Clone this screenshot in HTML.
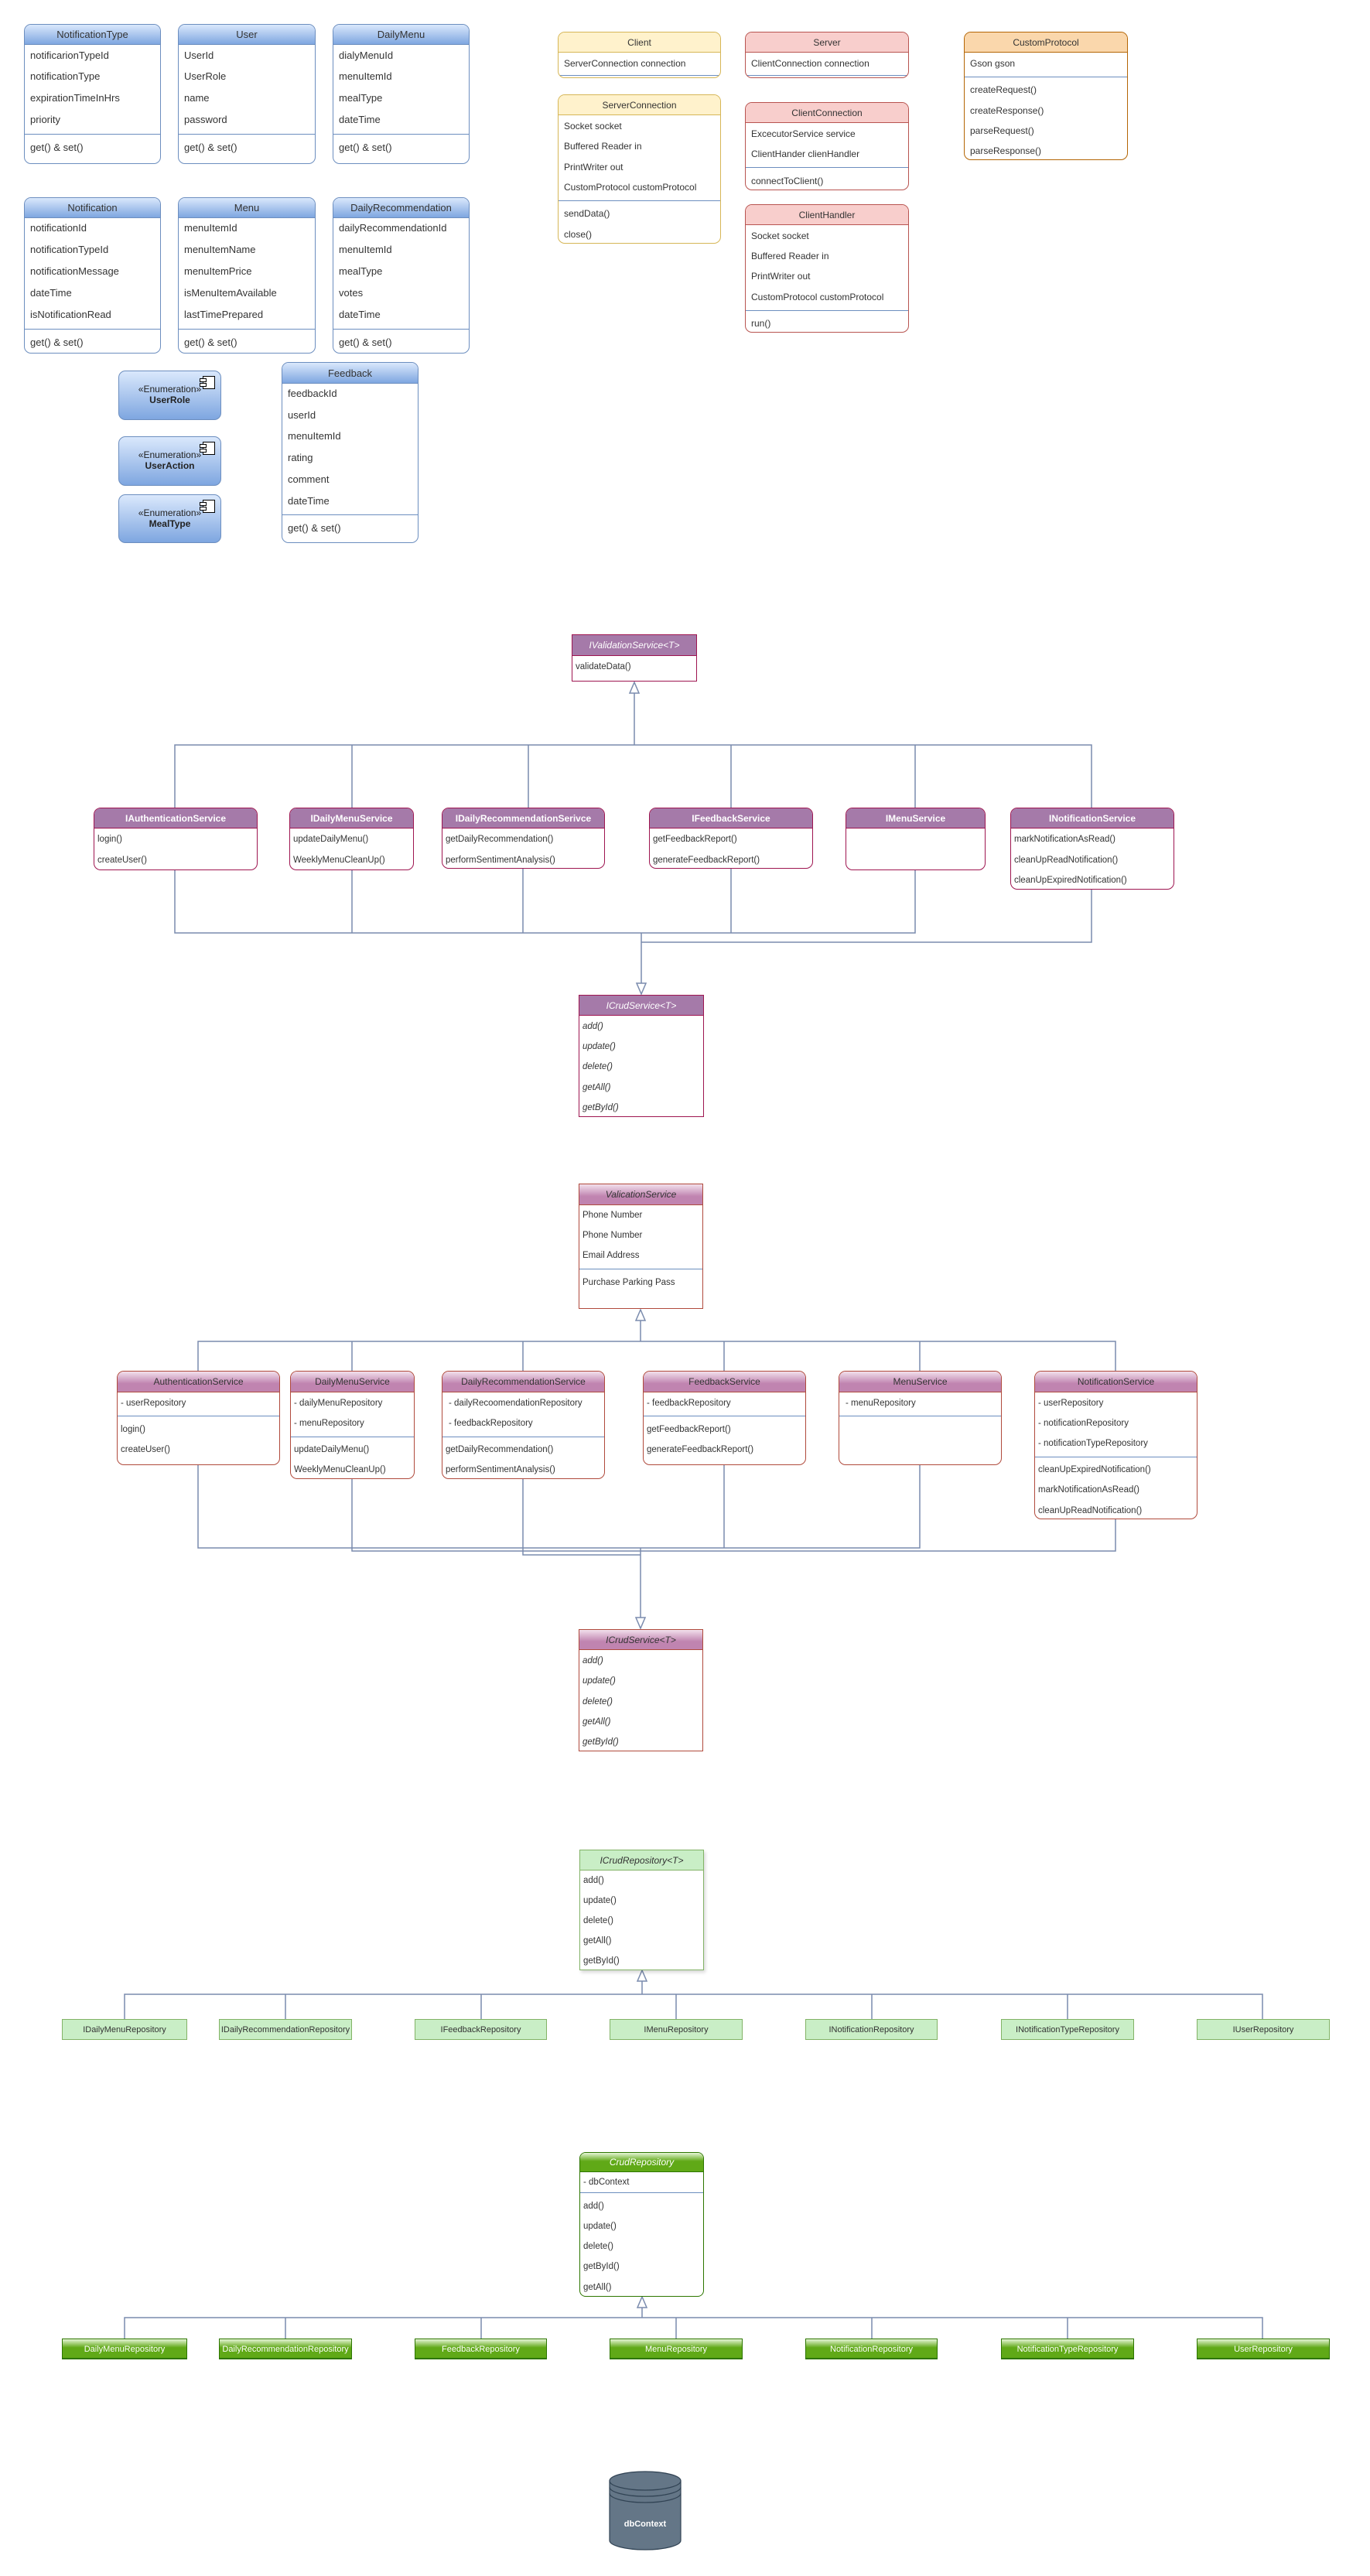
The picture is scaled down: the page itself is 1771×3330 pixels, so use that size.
<!DOCTYPE html>
<html><head><meta charset="utf-8">
<style>
body{margin:0;background:#fff}
#c{position:relative;width:1771px;height:3330px;overflow:hidden;font-family:"Liberation Sans",sans-serif;color:#333}
.b{position:absolute;background:#fff;border:1.5px solid #6c8ebf;border-radius:9px;overflow:hidden;box-sizing:border-box}
.h{position:absolute;left:0;right:0;top:0;text-align:center;box-sizing:border-box}
.r{position:absolute;left:7px;white-space:nowrap;line-height:16px}
.d{position:absolute;left:0;right:0;height:0;border-top:1.5px solid #6c8ebf}
.blue{border-color:#6c8ebf}.blue .h{background:linear-gradient(#dae8fc,#7ea6e0);border-bottom:1.5px solid #6c8ebf;font-size:13px}
.t1{font-size:13px}
.yel{border-color:#d6b656}.yel .h{background:#fff2cc;border-bottom:1.5px solid #d6b656}
.red{border-color:#b85450}.red .h{background:#f8cecc;border-bottom:1.5px solid #b85450}
.org{border-color:#b46504}.org .h{background:#fad7ac;border-bottom:1.5px solid #b46504}
.t2{font-size:12px}
.pur{border-color:#9e1550}.pur .h{background:#a57aa9;color:#fff;border-bottom:1.5px solid #9e1550;font-size:12px}
.pnk{border-color:#b04a3c}.pnk .h{background:linear-gradient(#f2e0ec,#c084b0 60%);color:#333;border-bottom:1.5px solid #b04a3c;font-size:12px}
.t3{font-size:11.5px}
.sq{border-radius:0}
.gl{border-color:#82b366}.gl .h{background:#c9eec6;border-bottom:1.5px solid #82b366;font-size:12px}
.gd{border-color:#2d7600}.gd .h{background:linear-gradient(#e6f5d6,#60a917 45%);color:#fff;border-bottom:1.5px solid #2d7600;font-size:12px}
.rl{position:absolute;height:27px;line-height:27px;text-align:center;font-size:11px;background:#c9eec6;border:1.5px solid #82b366;box-sizing:border-box;white-space:nowrap;overflow:hidden}
.rd{position:absolute;height:27px;line-height:27px;text-align:center;font-size:11px;color:#fff;background:linear-gradient(#e6f5d6,#60a917 45%);border:1px solid #2d7600;border-bottom:2px solid #2d7600;box-sizing:border-box;white-space:nowrap;overflow:hidden}
.en{position:absolute;border:1.5px solid #6c8ebf;border-radius:9px;background:linear-gradient(#dae8fc,#7ea6e0);box-sizing:border-box;text-align:center;font-size:12px;color:#222}
.en .ic{position:absolute;right:7px;top:6px;width:14px;height:15px;border:1.5px solid #000;background:#fff}
.en .ic:before{content:"";position:absolute;left:-5px;top:2px;width:7px;height:3px;border:1px solid #000;background:#fff}
.en .ic:after{content:"";position:absolute;left:-5px;top:8px;width:7px;height:3px;border:1px solid #000;background:#fff}
i{font-style:italic}
</style></head><body><div id="c">

<svg width="1771" height="3330" style="position:absolute;left:0;top:0" fill="none" stroke="#7a8bad" stroke-width="1.5">
<!-- interface section -->
<path d="M820 895V963M226 1044V963H1411V1044M455 963V1044M683 963V1044M945 963V1044M1183 963V1044"/>
<polygon points="820,882 814,896 826,896" fill="#fff"/>
<path d="M226 1125V1206H1183V1125M455 1125V1206M676 1123V1206M945 1123V1206M1411 1150V1218H829M829 1206V1272"/>
<polygon points="829,1285 823,1271 835,1271" fill="#fff"/>
<!-- service impl -->
<path d="M828 1706V1734M256 1772V1734H1442V1772M455 1734V1772M676 1734V1772M936 1734V1772M1189 1734V1772"/>
<polygon points="828,1693 822,1707 834,1707" fill="#fff"/>
<path d="M256 1894V2001H1189V1894M455 1912V2005H1442V1964M676 1912V2010H828M936 1894V2001M828 2001V2092"/>
<polygon points="828,2105 822,2091 834,2091" fill="#fff"/>
<!-- repos -->
<path d="M830 2560V2578M161 2610V2578H1632V2610M369 2578V2610M622 2578V2610M874 2578V2610M1127 2578V2610M1380 2578V2610"/>
<polygon points="830,2547 824,2561 836,2561" fill="#fff"/>
<path d="M830 2982V2996M161 3023V2996H1632V3023M369 2996V3023M622 2996V3023M874 2996V3023M1127 2996V3023M1380 2996V3023"/>
<polygon points="830,2969 824,2983 836,2983" fill="#fff"/>
<!-- cylinder -->
<g stroke="#314354" stroke-width="1.2">
<path d="M788 3207V3284A46 12 0 0 0 880 3284V3207Z" fill="#647687"/>
<ellipse cx="834" cy="3207" rx="46" ry="12" fill="#647687"/>
<path d="M788 3215A46 12 0 0 0 880 3215M788 3223A46 12 0 0 0 880 3223"/>
</g>
<text x="834" y="3266" fill="#fff" stroke="none" font-family="Liberation Sans,sans-serif" font-size="11" font-weight="bold" text-anchor="middle">dbContext</text>
</svg>

<!-- TOP: entity classes -->
<div class="b blue t1" style="left:31px;top:31px;width:177px;height:181px"><div class="h" style="height:26px;line-height:26px">NotificationType</div>
<div class="r" style="top:32px">notificarionTypeId</div><div class="r" style="top:59px">notificationType</div><div class="r" style="top:87px">expirationTimeInHrs</div><div class="r" style="top:115px">priority</div><div class="d" style="top:141px"></div><div class="r" style="top:151px">get() &amp; set()</div></div>
<div class="b blue t1" style="left:230px;top:31px;width:178px;height:181px"><div class="h" style="height:26px;line-height:26px">User</div>
<div class="r" style="top:32px">UserId</div><div class="r" style="top:59px">UserRole</div><div class="r" style="top:87px">name</div><div class="r" style="top:115px">password</div><div class="d" style="top:141px"></div><div class="r" style="top:151px">get() &amp; set()</div></div>
<div class="b blue t1" style="left:430px;top:31px;width:177px;height:181px"><div class="h" style="height:26px;line-height:26px">DailyMenu</div>
<div class="r" style="top:32px">dialyMenuId</div><div class="r" style="top:59px">menuItemId</div><div class="r" style="top:87px">mealType</div><div class="r" style="top:115px">dateTime</div><div class="d" style="top:141px"></div><div class="r" style="top:151px">get() &amp; set()</div></div>

<div class="b blue t1" style="left:31px;top:255px;width:177px;height:202px"><div class="h" style="height:26px;line-height:26px">Notification</div>
<div class="r" style="top:31px">notificationId</div><div class="r" style="top:59px">notificationTypeId</div><div class="r" style="top:87px">notificationMessage</div><div class="r" style="top:115px">dateTime</div><div class="r" style="top:143px">isNotificationRead</div><div class="d" style="top:169px"></div><div class="r" style="top:179px">get() &amp; set()</div></div>
<div class="b blue t1" style="left:230px;top:255px;width:178px;height:202px"><div class="h" style="height:26px;line-height:26px">Menu</div>
<div class="r" style="top:31px">menuItemId</div><div class="r" style="top:59px">menuItemName</div><div class="r" style="top:87px">menuItemPrice</div><div class="r" style="top:115px">isMenuItemAvailable</div><div class="r" style="top:143px">lastTimePrepared</div><div class="d" style="top:169px"></div><div class="r" style="top:179px">get() &amp; set()</div></div>
<div class="b blue t1" style="left:430px;top:255px;width:177px;height:202px"><div class="h" style="height:26px;line-height:26px">DailyRecommendation</div>
<div class="r" style="top:31px">dailyRecommendationId</div><div class="r" style="top:59px">menuItemId</div><div class="r" style="top:87px">mealType</div><div class="r" style="top:115px">votes</div><div class="r" style="top:143px">dateTime</div><div class="d" style="top:169px"></div><div class="r" style="top:179px">get() &amp; set()</div></div>

<div class="b blue t1" style="left:364px;top:468px;width:177px;height:234px"><div class="h" style="height:27px;line-height:27px">Feedback</div>
<div class="r" style="top:32px">feedbackId</div><div class="r" style="top:60px">userId</div><div class="r" style="top:87px">menuItemId</div><div class="r" style="top:115px">rating</div><div class="r" style="top:143px">comment</div><div class="r" style="top:171px">dateTime</div><div class="d" style="top:196px"></div><div class="r" style="top:206px">get() &amp; set()</div></div>

<div class="en" style="left:153px;top:479px;width:133px;height:64px"><div class="ic"></div><div style="padding-top:16px">«Enumeration»</div><div style="font-weight:bold">UserRole</div></div>
<div class="en" style="left:153px;top:564px;width:133px;height:64px"><div class="ic"></div><div style="padding-top:16px">«Enumeration»</div><div style="font-weight:bold">UserAction</div></div>
<div class="en" style="left:153px;top:639px;width:133px;height:63px"><div class="ic"></div><div style="padding-top:16px">«Enumeration»</div><div style="font-weight:bold">MealType</div></div>

<!-- client/server -->
<div class="b yel t2" style="left:721px;top:41px;width:211px;height:60px"><div class="h" style="height:26px;line-height:26px">Client</div><div class="r" style="top:32px">ServerConnection connection</div><div class="d" style="top:55px;border-color:#6c8ebf"></div></div>
<div class="b red t2" style="left:963px;top:41px;width:212px;height:60px"><div class="h" style="height:26px;line-height:26px">Server</div><div class="r" style="top:32px">ClientConnection connection</div><div class="d" style="top:55px"></div></div>
<div class="b yel t2" style="left:721px;top:122px;width:211px;height:193px"><div class="h" style="height:26px;line-height:26px">ServerConnection</div>
<div class="r" style="top:32px">Socket socket</div><div class="r" style="top:58px">Buffered Reader in</div><div class="r" style="top:85px">PrintWriter out</div><div class="r" style="top:111px">CustomProtocol customProtocol</div><div class="d" style="top:136px"></div><div class="r" style="top:145px">sendData()</div><div class="r" style="top:172px">close()</div></div>
<div class="b red t2" style="left:963px;top:132px;width:212px;height:114px"><div class="h" style="height:26px;line-height:26px">ClientConnection</div>
<div class="r" style="top:32px">ExcecutorService service</div><div class="r" style="top:58px">ClientHander clienHandler</div><div class="d" style="top:83px"></div><div class="r" style="top:93px">connectToClient()</div></div>
<div class="b red t2" style="left:963px;top:264px;width:212px;height:166px"><div class="h" style="height:26px;line-height:26px">ClientHandler</div>
<div class="r" style="top:32px">Socket socket</div><div class="r" style="top:58px">Buffered Reader in</div><div class="r" style="top:84px">PrintWriter out</div><div class="r" style="top:111px">CustomProtocol customProtocol</div><div class="d" style="top:136px"></div><div class="r" style="top:145px">run()</div></div>
<div class="b org t2" style="left:1246px;top:41px;width:212px;height:166px"><div class="h" style="height:26px;line-height:26px">CustomProtocol</div>
<div class="r" style="top:32px">Gson gson</div><div class="d" style="top:57px;border-color:#6c8ebf"></div><div class="r" style="top:66px">createRequest()</div><div class="r" style="top:93px">createResponse()</div><div class="r" style="top:119px">parseRequest()</div><div class="r" style="top:145px">parseResponse()</div></div>

<!-- interfaces -->
<div class="b pur t3 sq" style="left:739px;top:820px;width:162px;height:61px"><div class="h" style="height:27px;line-height:27px"><i>IValidationService&lt;T&gt;</i></div><div class="r" style="top:33px;left:4px">validateData()</div></div>
<div class="b pur t3" style="left:121px;top:1044px;width:212px;height:81px"><div class="h" style="height:26px;line-height:26px;font-weight:bold">IAuthenticationService</div><div class="r" style="top:32px;left:4px">login()</div><div class="r" style="top:59px;left:4px">createUser()</div></div>
<div class="b pur t3" style="left:374px;top:1044px;width:161px;height:81px"><div class="h" style="height:26px;line-height:26px;font-weight:bold">IDailyMenuService</div><div class="r" style="top:32px;left:4px">updateDailyMenu()</div><div class="r" style="top:59px;left:4px">WeeklyMenuCleanUp()</div></div>
<div class="b pur t3" style="left:571px;top:1044px;width:211px;height:79px"><div class="h" style="height:26px;line-height:26px;font-weight:bold">IDailyRecommendationSerivce</div><div class="r" style="top:32px;left:4px">getDailyRecommendation()</div><div class="r" style="top:59px;left:4px">performSentimentAnalysis()</div></div>
<div class="b pur t3" style="left:839px;top:1044px;width:212px;height:79px"><div class="h" style="height:26px;line-height:26px;font-weight:bold">IFeedbackService</div><div class="r" style="top:32px;left:4px">getFeedbackReport()</div><div class="r" style="top:59px;left:4px">generateFeedbackReport()</div></div>
<div class="b pur t3" style="left:1093px;top:1044px;width:181px;height:81px"><div class="h" style="height:26px;line-height:26px;font-weight:bold">IMenuService</div></div>
<div class="b pur t3" style="left:1306px;top:1044px;width:212px;height:106px"><div class="h" style="height:26px;line-height:26px;font-weight:bold">INotificationService</div><div class="r" style="top:32px;left:4px">markNotificationAsRead()</div><div class="r" style="top:59px;left:4px">cleanUpReadNotification()</div><div class="r" style="top:85px;left:4px">cleanUpExpiredNotification()</div></div>
<div class="b pur t3 sq" style="left:748px;top:1286px;width:162px;height:158px"><div class="h" style="height:26px;line-height:26px"><i>ICrudService&lt;T&gt;</i></div>
<div class="r" style="top:32px;left:4px"><i>add()</i></div><div class="r" style="top:58px;left:4px"><i>update()</i></div><div class="r" style="top:84px;left:4px"><i>delete()</i></div><div class="r" style="top:111px;left:4px"><i>getAll()</i></div><div class="r" style="top:137px;left:4px"><i>getById()</i></div></div>

<!-- service implementations -->
<div class="b pnk t3 sq" style="left:748px;top:1530px;width:161px;height:162px"><div class="h" style="height:27px;line-height:27px"><i>ValicationService</i></div>
<div class="r" style="top:32px;left:4px">Phone Number</div><div class="r" style="top:58px;left:4px">Phone Number</div><div class="r" style="top:84px;left:4px">Email Address</div><div class="d" style="top:109px"></div><div class="r" style="top:119px;left:4px">Purchase Parking Pass</div></div>
<div class="b pnk t3" style="left:151px;top:1772px;width:211px;height:122px"><div class="h" style="height:27px;line-height:27px">AuthenticationService</div>
<div class="r" style="top:33px;left:4px">- userRepository</div><div class="d" style="top:57px"></div><div class="r" style="top:67px;left:4px">login()</div><div class="r" style="top:93px;left:4px">createUser()</div></div>
<div class="b pnk t3" style="left:375px;top:1772px;width:161px;height:140px"><div class="h" style="height:27px;line-height:27px">DailyMenuService</div>
<div class="r" style="top:33px;left:4px">- dailyMenuRepository</div><div class="r" style="top:59px;left:4px">- menuRepository</div><div class="d" style="top:84px"></div><div class="r" style="top:93px;left:4px">updateDailyMenu()</div><div class="r" style="top:119px;left:4px">WeeklyMenuCleanUp()</div></div>
<div class="b pnk t3" style="left:571px;top:1772px;width:211px;height:140px"><div class="h" style="height:27px;line-height:27px">DailyRecommendationService</div>
<div class="r" style="top:33px;left:8px">- dailyRecoomendationRepository</div><div class="r" style="top:59px;left:8px">- feedbackRepository</div><div class="d" style="top:84px"></div><div class="r" style="top:93px;left:4px">getDailyRecommendation()</div><div class="r" style="top:119px;left:4px">performSentimentAnalysis()</div></div>
<div class="b pnk t3" style="left:831px;top:1772px;width:211px;height:122px"><div class="h" style="height:27px;line-height:27px">FeedbackService</div>
<div class="r" style="top:33px;left:4px">- feedbackRepository</div><div class="d" style="top:57px"></div><div class="r" style="top:67px;left:4px">getFeedbackReport()</div><div class="r" style="top:93px;left:4px">generateFeedbackReport()</div></div>
<div class="b pnk t3" style="left:1084px;top:1772px;width:211px;height:122px"><div class="h" style="height:27px;line-height:27px">MenuService</div>
<div class="r" style="top:33px;left:8px">- menuRepository</div><div class="d" style="top:57px"></div></div>
<div class="b pnk t3" style="left:1337px;top:1772px;width:211px;height:192px"><div class="h" style="height:27px;line-height:27px">NotificationService</div>
<div class="r" style="top:33px;left:4px">- userRepository</div><div class="r" style="top:59px;left:4px">- notificationRepository</div><div class="r" style="top:85px;left:4px">- notificationTypeRepository</div><div class="d" style="top:110px"></div><div class="r" style="top:119px;left:4px">cleanUpExpiredNotification()</div><div class="r" style="top:145px;left:4px">markNotificationAsRead()</div><div class="r" style="top:172px;left:4px">cleanUpReadNotification()</div></div>
<div class="b pnk t3 sq" style="left:748px;top:2106px;width:161px;height:158px"><div class="h" style="height:26px;line-height:26px"><i>ICrudService&lt;T&gt;</i></div>
<div class="r" style="top:32px;left:4px"><i>add()</i></div><div class="r" style="top:58px;left:4px"><i>update()</i></div><div class="r" style="top:85px;left:4px"><i>delete()</i></div><div class="r" style="top:111px;left:4px"><i>getAll()</i></div><div class="r" style="top:137px;left:4px"><i>getById()</i></div></div>

<!-- repositories -->
<div class="b gl t3 sq" style="left:749px;top:2391px;width:161px;height:156px;box-shadow:2px 3px 4px rgba(0,0,0,.15)"><div class="h" style="height:26px;line-height:26px"><i>ICrudRepository&lt;T&gt;</i></div>
<div class="r" style="top:31px;left:4px">add()</div><div class="r" style="top:57px;left:4px">update()</div><div class="r" style="top:83px;left:4px">delete()</div><div class="r" style="top:109px;left:4px">getAll()</div><div class="r" style="top:135px;left:4px">getById()</div></div>
<div class="rl" style="left:80px;top:2610px;width:162px">IDailyMenuRepository</div>
<div class="rl" style="left:283px;top:2610px;width:172px">IDailyRecommendationRepository</div>
<div class="rl" style="left:536px;top:2610px;width:171px">IFeedbackRepository</div>
<div class="rl" style="left:788px;top:2610px;width:172px">IMenuRepository</div>
<div class="rl" style="left:1041px;top:2610px;width:171px">INotificationRepository</div>
<div class="rl" style="left:1294px;top:2610px;width:172px">INotificationTypeRepository</div>
<div class="rl" style="left:1547px;top:2610px;width:172px">IUserRepository</div>

<div class="b gd t3" style="left:749px;top:2782px;width:161px;height:187px;border-radius:8px"><div class="h" style="height:25px;line-height:25px"><i>CrudRepository</i></div>
<div class="r" style="top:30px;left:4px">- dbContext</div><div class="d" style="top:51px;border-color:#6c8ebf"></div><div class="r" style="top:61px;left:4px">add()</div><div class="r" style="top:87px;left:4px">update()</div><div class="r" style="top:113px;left:4px">delete()</div><div class="r" style="top:139px;left:4px">getById()</div><div class="r" style="top:166px;left:4px">getAll()</div></div>
<div class="rd" style="left:80px;top:3023px;width:162px">DailyMenuRepository</div>
<div class="rd" style="left:283px;top:3023px;width:172px">DailyRecommendationRepository</div>
<div class="rd" style="left:536px;top:3023px;width:171px">FeedbackRepository</div>
<div class="rd" style="left:788px;top:3023px;width:172px">MenuRepository</div>
<div class="rd" style="left:1041px;top:3023px;width:171px">NotificationRepository</div>
<div class="rd" style="left:1294px;top:3023px;width:172px">NotificationTypeRepository</div>
<div class="rd" style="left:1547px;top:3023px;width:172px">UserRepository</div>

</div></body></html>
